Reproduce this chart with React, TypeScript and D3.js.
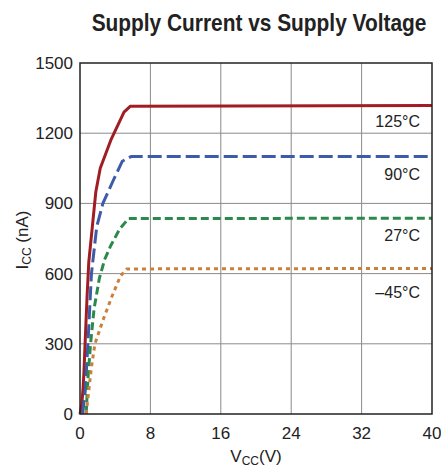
import React, { useEffect, useRef } from 'react';
import * as d3 from 'd3';

// supply voltage (V) vs supply current (nA)
const curve125 = [[0, 0], [0.2, 40], [0.35, 110], [0.45, 180], [0.6, 320], [0.8, 500], [1.0, 650], [1.4, 800], [1.8, 950], [2.3, 1050], [3.5, 1170], [5.0, 1290], [5.7, 1315], [40, 1318]];
const curve90 = [[0.3, 0], [0.6, 100], [0.9, 300], [1.3, 600], [1.9, 800], [2.6, 900], [3.8, 1000], [4.8, 1080], [5.8, 1100], [40, 1100]];
const curve27 = [[0.7, 0], [0.9, 150], [1.2, 300], [1.6, 450], [2.2, 580], [2.8, 660], [3.5, 720], [4.5, 790], [5.5, 835], [40, 837]];
const curveM45 = [[0.7, 0], [1.0, 100], [1.3, 200], [1.7, 300], [2.6, 400], [3.6, 500], [4.6, 590], [5.3, 620], [40, 622]];

const xTicks = [0, 8, 16, 24, 32, 40];
const yTicks = [0, 300, 600, 900, 1200, 1500];

const series = [
  { name: '125°C', data: curve125, color: '#a11d24', dash: null, labelY: 1225 },
  { name: '90°C', data: curve90, color: '#3d5ba9', dash: '14,5', labelY: 1000 },
  { name: '27°C', data: curve27, color: '#2b8a4b', dash: '8,4', labelY: 740 },
  { name: '–45°C', data: curveM45, color: '#c9803c', dash: '4,4', labelY: 495 },
];

const font = '"Liberation Sans Narrow", "Liberation Sans", Arial, sans-serif';

const App = () => {
  const ref = useRef<SVGSVGElement>(null);

  useEffect(() => {
    const svg = d3.select(ref.current);
    svg.selectAll('*').remove();

    const left = 80, right = 432, top = 63, bottom = 414;
    const x = d3.scaleLinear().domain([0, 40]).range([left, right]);
    const y = d3.scaleLinear().domain([0, 1500]).range([bottom, top]);

    svg.append('text')
      .attr('transform', 'translate(259,31) scale(0.87,1)')
      .attr('text-anchor', 'middle')
      .attr('font-family', font).attr('font-weight', 'bold').attr('font-size', 24)
      .attr('fill', '#222')
      .text('Supply Current vs Supply Voltage');

    // grid
    svg.append('g').selectAll('line').data(xTicks.slice(1, -1)).enter().append('line')
      .attr('x1', d => x(d)).attr('x2', d => x(d)).attr('y1', top).attr('y2', bottom)
      .attr('stroke', '#8a8a8a').attr('stroke-width', 1);
    svg.append('g').selectAll('line').data(yTicks.slice(1, -1)).enter().append('line')
      .attr('y1', d => y(d)).attr('y2', d => y(d)).attr('x1', left).attr('x2', right)
      .attr('stroke', '#8a8a8a').attr('stroke-width', 1);

    const line = d3.line<number[]>().x(d => x(d[0])).y(d => y(d[1]));

    series.forEach(s => {
      svg.append('path')
        .attr('d', line(s.data))
        .attr('fill', 'none')
        .attr('stroke', s.color)
        .attr('stroke-width', 3)
        .attr('stroke-dasharray', s.dash)
        .attr('stroke-linejoin', 'round');
      svg.append('text')
        .attr('x', 420).attr('y', y(s.labelY))
        .attr('text-anchor', 'end')
        .attr('font-family', font).attr('font-size', 16)
        .attr('fill', '#222')
        .text(s.name);
    });

    // frame
    svg.append('rect')
      .attr('x', left).attr('y', top).attr('width', right - left).attr('height', bottom - top)
      .attr('fill', 'none').attr('stroke', '#222').attr('stroke-width', 1.5);

    svg.append('g').selectAll('text').data(yTicks).enter().append('text')
      .attr('x', 73).attr('y', d => y(d) + 6)
      .attr('text-anchor', 'end')
      .attr('font-family', font).attr('font-size', 17).attr('fill', '#222')
      .text(d => d);
    svg.append('g').selectAll('text').data(xTicks).enter().append('text')
      .attr('x', d => x(d)).attr('y', 439)
      .attr('text-anchor', 'middle')
      .attr('font-family', font).attr('font-size', 17).attr('fill', '#222')
      .text(d => d);

    const xl = svg.append('text')
      .attr('x', 256).attr('y', 462)
      .attr('text-anchor', 'middle')
      .attr('font-family', font).attr('font-size', 17).attr('fill', '#222');
    xl.append('tspan').text('V');
    xl.append('tspan').attr('dy', 3).attr('font-size', 12).text('CC');
    xl.append('tspan').attr('dy', -3).text('(V)');

    const yl = svg.append('text')
      .attr('transform', 'translate(28,240) rotate(-90)')
      .attr('text-anchor', 'middle')
      .attr('font-family', font).attr('font-size', 17).attr('fill', '#222');
    yl.append('tspan').text('I');
    yl.append('tspan').attr('dy', 3).attr('font-size', 12).text('CC');
    yl.append('tspan').attr('dy', -3).text(' (nA)');
  }, []);

  return <svg ref={ref} width={441} height={470} style={{ position: 'absolute', left: 0, top: 0, background: '#fff' }} />;
};

export default App;
